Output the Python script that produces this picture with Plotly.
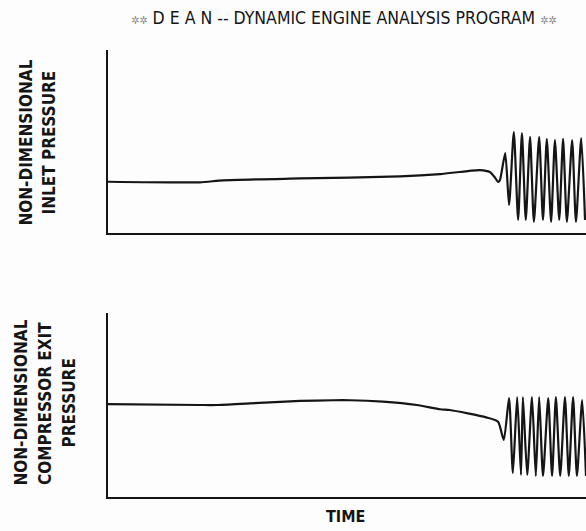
import plotly.graph_objects as go

# ---- data (time in arbitrary units 0..100, pressures non-dimensional 0..10) ----
time_inlet = [0, 19.2, 24.1, 40.2, 61.1, 69.5, 77.8, 79.9, 81.0, 81.6, 82.0,
              83.1, 83.9, 84.9, 85.8, 86.6, 87.4, 88.3, 89.1, 90.2, 91.0, 91.8, 92.7,
              93.5, 94.4, 95.2, 96.0, 97.1, 97.9, 99.0, 99.8]
inlet_pressure = [2.80, 2.77, 2.88, 2.98, 3.09, 3.22, 3.44, 3.33, 3.01, 2.79, 2.90,
                  4.37, 1.53, 5.52, 0.71, 5.46, 0.71, 5.25, 0.60, 5.25, 0.71, 5.14, 0.60,
                  5.08, 0.71, 5.14, 0.60, 5.08, 0.60, 5.19, 0.71]

time_exit = [0, 19.2, 22.8, 29.7, 40.2, 47.1, 50.6, 57.5, 64.6, 69.5, 71.5, 79.1, 81.6, 82.8,
             83.9, 84.7, 85.6, 86.4, 86.8, 87.7, 88.7, 89.5, 90.2, 91.0, 92.1, 92.9,
             93.7, 94.6, 95.6, 96.4, 97.3, 98.1, 99.2, 100]
exit_pressure = [5.05, 5.00, 5.00, 5.09, 5.22, 5.26, 5.26, 5.18, 5.00, 4.77, 4.73, 4.33, 4.09, 3.10,
                 5.38, 1.30, 5.43, 1.20, 5.43, 1.20, 5.43, 1.14, 5.43, 1.14, 5.38, 1.14,
                 5.43, 1.14, 5.43, 1.14, 5.43, 1.14, 5.27, 1.14]

title_text = "D E A N -- DYNAMIC ENGINE ANALYSIS PROGRAM"
ylabel_top = ["NON-DIMENSIONAL", "INLET PRESSURE"]
ylabel_bottom = ["NON-DIMENSIONAL", "COMPRESSOR EXIT", "PRESSURE"]
xlabel = "TIME"

FONT = "DejaVu Sans Condensed, Liberation Sans Narrow, sans-serif"
INK = "#151515"

fig = go.Figure()
fig.add_trace(go.Scatter(x=time_inlet, y=inlet_pressure, mode="lines",
                         line=dict(color=INK, width=2.2, shape="spline", smoothing=0.6),
                         xaxis="x", yaxis="y", hoverinfo="skip", showlegend=False))
fig.add_trace(go.Scatter(x=time_exit, y=exit_pressure, mode="lines",
                         line=dict(color=INK, width=2.2, shape="spline", smoothing=0.6),
                         xaxis="x2", yaxis="y2", hoverinfo="skip", showlegend=False))

axis_common = dict(showline=True, linecolor=INK, linewidth=1.6, showgrid=False,
                   zeroline=False, ticks="", showticklabels=False, fixedrange=True)

fig.update_layout(
    width=586, height=531,
    margin=dict(l=108, r=0, t=50, b=34),
    paper_bgcolor="#fdfdfd", plot_bgcolor="#fdfdfd",
    xaxis=dict(domain=[0, 1], range=[0, 100], anchor="y", **axis_common),
    yaxis=dict(domain=[0.5906, 1], range=[0, 10], anchor="x", **axis_common),
    xaxis2=dict(domain=[0, 1], range=[0, 100], anchor="y2", **axis_common),
    yaxis2=dict(domain=[0, 0.4116], range=[0, 10], anchor="x2", **axis_common),
    showlegend=False,
)

# convert pixel positions to paper coords
def px(xp):
    return (xp - 108) / (586 - 108)
def py(yp):
    return (497 - yp) / (497 - 50)

star = "<span style='color:#8a8a8a;font-size:11px'>✲✲</span>"
ann = []
ann.append(dict(text=star + " " + title_text + " " + star,
                x=px(344), y=py(18), xref="paper", yref="paper", showarrow=False,
                xanchor="center", yanchor="middle",
                font=dict(family=FONT, size=17.5, color=INK)))

for t, xc in zip(ylabel_top, [25.5, 48.5]):
    ann.append(dict(text=t, x=px(xc), y=py(143), xref="paper", yref="paper",
                    showarrow=False, textangle=-90, xanchor="center", yanchor="middle",
                    font=dict(family=FONT, size=17, color=INK, weight="bold")))
for t, xc in zip(ylabel_bottom, [20.5, 45, 68.5]):
    ann.append(dict(text=t, x=px(xc), y=py(403), xref="paper", yref="paper",
                    showarrow=False, textangle=-90, xanchor="center", yanchor="middle",
                    font=dict(family=FONT, size=17, color=INK, weight="bold")))
ann.append(dict(text=xlabel, x=px(345), y=py(516), xref="paper", yref="paper",
                showarrow=False, xanchor="center", yanchor="middle",
                font=dict(family=FONT, size=16, color=INK, weight="bold")))
fig.update_layout(annotations=ann)

fig.write_html("out.html")
